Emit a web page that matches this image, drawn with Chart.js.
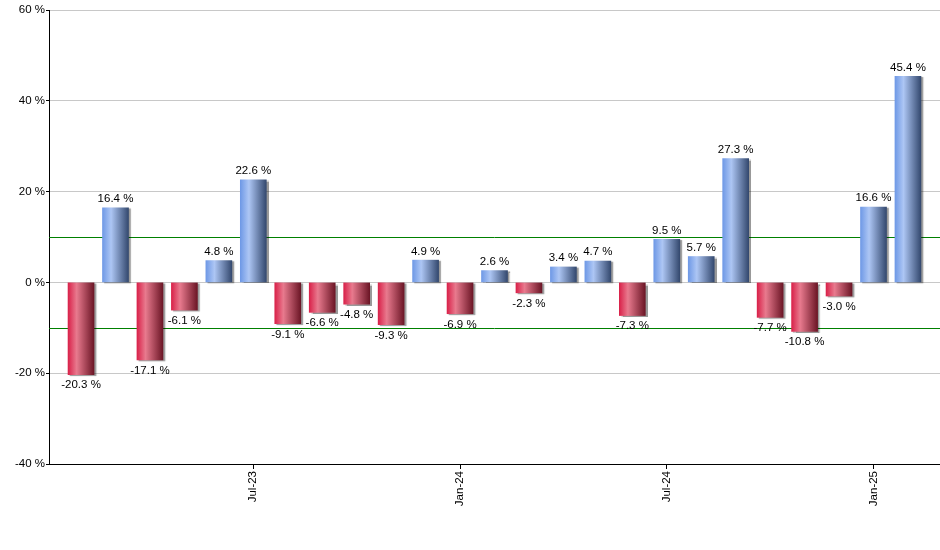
<!DOCTYPE html>
<html>
<head>
<meta charset="utf-8">
<script src="https://cdn.jsdelivr.net/npm/chart.js@4.4.1/dist/chart.umd.min.js"></script>
<style>
  html, body { margin: 0; padding: 0; background: #ffffff; }
  #wrap { width: 940px; height: 550px; }
</style>
</head>
<body>
<div id="wrap"><canvas id="returnsChart" width="940" height="550"></canvas></div>
<script>
    // monthly returns, Feb-23 .. Feb-25
    const MONTHS = ['Feb-23', 'Mar-23', 'Apr-23', 'May-23', 'Jun-23', 'Jul-23', 'Aug-23', 'Sep-23',
        'Oct-23', 'Nov-23', 'Dec-23', 'Jan-24', 'Feb-24', 'Mar-24', 'Apr-24', 'May-24', 'Jun-24',
        'Jul-24', 'Aug-24', 'Sep-24', 'Oct-24', 'Nov-24', 'Dec-24', 'Jan-25', 'Feb-25'];
    const RETURNS = [-20.3, 16.4, -17.1, -6.1, 4.8, 22.6, -9.1, -6.6, -4.8, -9.3, 4.9, -6.9, 2.6,
        -2.3, 3.4, 4.7, -7.3, 9.5, 5.7, 27.3, -7.7, -10.8, -3.0, 16.6, 45.4];
    const TICK_MONTHS = ['Jul-23', 'Jan-24', 'Jul-24', 'Jan-25'];
    const Y_TICKS = [-40, -20, 0, 20, 40, 60];
    const BAND_LINES = [10, -10];

    const FONT_FAMILY = "'Liberation Sans', Arial, sans-serif";
    const FONT_SIZE = 11.5;
    const TEXT_COLOR = '#000000';

    function barGradient(context) {
        const chart = context.chart;
        const xScale = chart.scales.x;
        const raw = context.raw;
        const positive = !raw || raw.y >= 0;
        const fallback = positive ? '#7fa3e8' : '#d94a66';
        if (!xScale || !raw) return fallback;
        const cx = xScale.getPixelForValue(raw.x);
        if (!Number.isFinite(cx)) return fallback;
        const half = 13;
        const g = chart.ctx.createLinearGradient(cx - half, 0, cx + half, 0);
        if (positive) {
            g.addColorStop(0, '#6f99e6');
            g.addColorStop(0.33, '#adc6f4');
            g.addColorStop(1, '#34496f');
        } else {
            g.addColorStop(0, '#d9224a');
            g.addColorStop(0.33, '#e87a8e');
            g.addColorStop(1, '#6c1626');
        }
        return g;
    }

    const bandLines = {
        id: 'bandLines',
        beforeDatasetsDraw(chart) {
            const ctx = chart.ctx;
            const area = chart.chartArea;
            const y = chart.scales.y;
            ctx.save();
            ctx.strokeStyle = '#008000';
            ctx.lineWidth = 1;
            BAND_LINES.forEach(v => {
                const py = Math.round(y.getPixelForValue(v)) + 0.5;
                ctx.beginPath();
                ctx.moveTo(area.left, py);
                ctx.lineTo(area.right, py);
                ctx.stroke();
            });
            ctx.restore();
        }
    };

    const barShadow = {
        id: 'barShadow',
        beforeDatasetDraw(chart) {
            const ctx = chart.ctx;
            ctx.save();
            ctx.shadowColor = 'rgba(0,0,0,0.4)';
            ctx.shadowOffsetX = 2;
            ctx.shadowOffsetY = 1;
            ctx.shadowBlur = 1;
        },
        afterDatasetDraw(chart) {
            chart.ctx.restore();
        }
    };

    const valueLabels = {
        id: 'valueLabels',
        afterDatasetsDraw(chart) {
            const ctx = chart.ctx;
            const meta = chart.getDatasetMeta(0);
            ctx.save();
            ctx.font = FONT_SIZE + 'px ' + FONT_FAMILY;
            ctx.fillStyle = TEXT_COLOR;
            ctx.textAlign = 'center';
            meta.data.forEach((bar, i) => {
                const v = RETURNS[i];
                const text = v.toFixed(1) + ' %';
                if (v >= 0) {
                    ctx.textBaseline = 'bottom';
                    ctx.fillText(text, bar.x, bar.y - 3);
                } else {
                    ctx.textBaseline = 'top';
                    ctx.fillText(text, bar.x, bar.y + 5);
                }
            });
            ctx.restore();
        }
    };

    const points = RETURNS.map((v, i) => ({ x: i, y: v }));

    new Chart(document.getElementById('returnsChart'), {
        type: 'bar',
        data: {
            datasets: [{
                data: points,
                backgroundColor: barGradient,
                borderWidth: 0,
                barThickness: 26
            }]
        },
        options: {
            responsive: false,
            animation: false,
            layout: { padding: { top: 10, right: 0, left: 0, bottom: 0 } },
            plugins: {
                legend: { display: false },
                tooltip: { enabled: false }
            },
            scales: {
                x: {
                    type: 'linear',
                    offset: false,
                    min: -0.93,
                    max: 24.93,
                    afterBuildTicks: scale => {
                        scale.ticks = TICK_MONTHS.map(m => ({ value: MONTHS.indexOf(m) }));
                    },
                    afterFit: scale => { scale.height = 86; },
                    grid: {
                        offset: false,
                        drawOnChartArea: false,
                        drawTicks: true,
                        tickLength: 5,
                        tickColor: '#000000'
                    },
                    border: { display: true, color: '#000000', width: 1 },
                    ticks: {
                        autoSkip: false,
                        maxRotation: 90,
                        minRotation: 90,
                        padding: 2,
                        color: TEXT_COLOR,
                        font: { family: FONT_FAMILY, size: FONT_SIZE },
                        callback: value => MONTHS[Math.round(value)]
                    }
                },
                y: {
                    min: -40,
                    max: 60,
                    afterBuildTicks: scale => {
                        scale.ticks = Y_TICKS.map(v => ({ value: v }));
                    },
                    afterFit: scale => { scale.width = 49; },
                    grid: {
                        color: '#c8c8c8',
                        tickColor: '#000000',
                        tickLength: 3,
                        lineWidth: 1
                    },
                    border: { display: true, color: '#000000', width: 1 },
                    ticks: {
                        padding: 1,
                        color: TEXT_COLOR,
                        font: { family: FONT_FAMILY, size: FONT_SIZE },
                        callback: value => value + ' %'
                    }
                }
            }
        },
        plugins: [bandLines, barShadow, valueLabels]
    });
</script>
</body>
</html>
